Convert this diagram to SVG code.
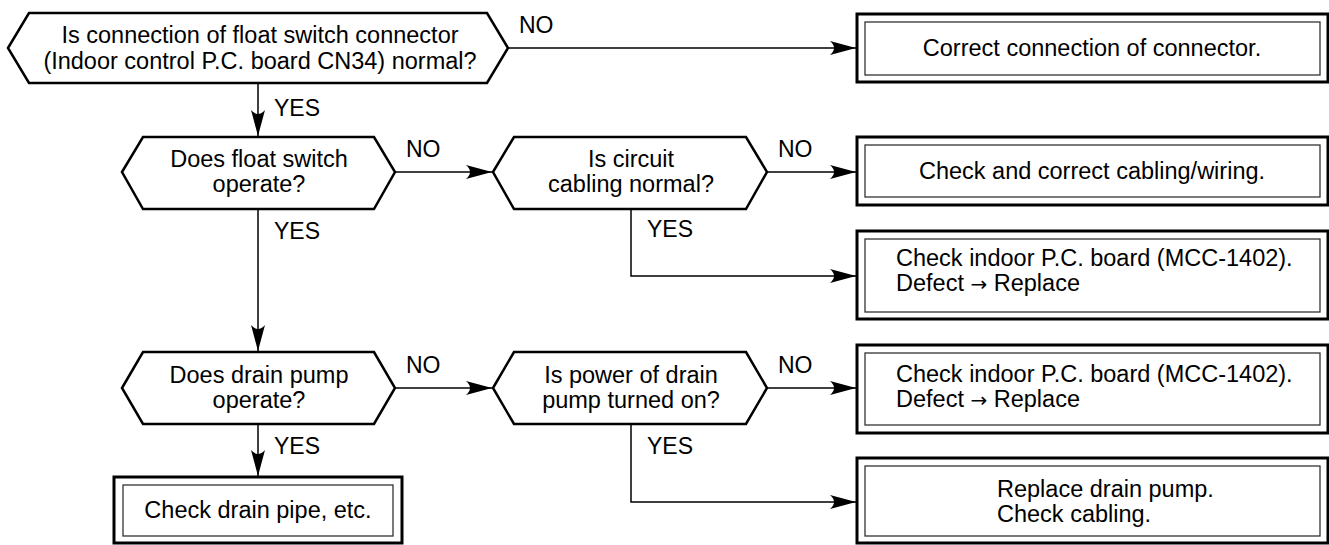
<svg xmlns="http://www.w3.org/2000/svg" width="1329" height="545" viewBox="0 0 1329 545">
<style>
  text { font-family: "Liberation Sans", Arial, Helvetica, sans-serif; font-size: 23.5px; fill: #000; }
  .c { text-anchor: middle; }
  .hex { fill: #fff; stroke: #000; stroke-width: 2.5; stroke-linejoin: miter; }
  .outer { fill: #fff; stroke: #000; stroke-width: 3; }
  .inner { fill: none; stroke: #333; stroke-width: 1.3; }
  .line { fill: none; stroke: #000; stroke-width: 1.5; }
  .lbl { font-size: 23px; }
  .sym { font-family: "DejaVu Sans", sans-serif; font-size: 20px; }
</style>
<defs>
  <marker id="arr" markerUnits="userSpaceOnUse" markerWidth="30" markerHeight="20" viewBox="-27 -10 30 20" refX="0" refY="0" orient="auto">
    <path d="M0,0 L-26,-7 Q-18,0 -26,7 Z" fill="#000"/>
  </marker>
</defs>
<rect width="1329" height="545" fill="#fff"/>

<g id="connectors">
  <path class="line" d="M508,48 H856" marker-end="url(#arr)"/>
  <path class="line" d="M258,83 V136" marker-end="url(#arr)"/>
  <path class="line" d="M395,172 H492" marker-end="url(#arr)"/>
  <path class="line" d="M767,172 H856" marker-end="url(#arr)"/>
  <path class="line" d="M631,209 V276 H856" marker-end="url(#arr)"/>
  <path class="line" d="M258,209 V351" marker-end="url(#arr)"/>
  <path class="line" d="M395,388 H492" marker-end="url(#arr)"/>
  <path class="line" d="M767,388 H856" marker-end="url(#arr)"/>
  <path class="line" d="M631,424 V502 H856" marker-end="url(#arr)"/>
  <path class="line" d="M258,424 V476" marker-end="url(#arr)"/>
  <text class="lbl" x="519" y="33">NO</text>
  <text class="lbl" x="274" y="116">YES</text>
  <text class="lbl" x="406" y="157">NO</text>
  <text class="lbl" x="778" y="157">NO</text>
  <text class="lbl" x="274" y="239">YES</text>
  <text class="lbl" x="647" y="237">YES</text>
  <text class="lbl" x="406" y="373">NO</text>
  <text class="lbl" x="778" y="373">NO</text>
  <text class="lbl" x="274" y="454">YES</text>
  <text class="lbl" x="647" y="454">YES</text>
</g>

<g id="q1">
  <polygon class="hex" points="8,48 29,13 487,13 508,48 487,83 29,83"/>
  <text class="c" x="260" y="43">Is connection of float switch connector</text>
  <text class="c" x="260" y="69">(Indoor control P.C. board CN34) normal?</text>
</g>

<g id="a1">
  <rect class="outer" x="857" y="14" width="471" height="68"/>
  <rect class="inner" x="865" y="22" width="455" height="53"/>
  <text class="c" x="1092" y="56">Correct connection of connector.</text>
</g>

<g id="q2">
  <polygon class="hex" points="122,172 143,137 374,137 395,172 374,209 143,209"/>
  <text class="c" x="259" y="167">Does float switch</text>
  <text class="c" x="259" y="192">operate?</text>
</g>

<g id="q3">
  <polygon class="hex" points="493,172 514,137 746,137 767,172 746,209 514,209"/>
  <text class="c" x="631" y="167">Is circuit</text>
  <text class="c" x="631" y="192">cabling normal?</text>
</g>

<g id="a2">
  <rect class="outer" x="857" y="137" width="471" height="68"/>
  <rect class="inner" x="865" y="145" width="455" height="52"/>
  <text class="c" x="1092" y="179">Check and correct cabling/wiring.</text>
</g>

<g id="a3">
  <rect class="outer" x="857" y="231" width="471" height="88"/>
  <rect class="inner" x="865" y="239" width="455" height="73"/>
  <text x="896" y="266">Check indoor P.C. board (MCC-1402).</text>
  <text x="896" y="291">Defect <tspan class="sym">→</tspan> Replace</text>
</g>

<g id="q4">
  <polygon class="hex" points="122,388 143,352 374,352 395,388 374,424 143,424"/>
  <text class="c" x="259" y="383">Does drain pump</text>
  <text class="c" x="259" y="408">operate?</text>
</g>

<g id="q5">
  <polygon class="hex" points="493,388 514,352 746,352 767,388 746,424 514,424"/>
  <text class="c" x="631" y="383">Is power of drain</text>
  <text class="c" x="631" y="408">pump turned on?</text>
</g>

<g id="a4">
  <rect class="outer" x="857" y="345" width="471" height="88"/>
  <rect class="inner" x="865" y="353" width="455" height="72"/>
  <text x="896" y="382">Check indoor P.C. board (MCC-1402).</text>
  <text x="896" y="407">Defect <tspan class="sym">→</tspan> Replace</text>
</g>

<g id="a5">
  <rect class="outer" x="857" y="458" width="471" height="85"/>
  <rect class="inner" x="865" y="466" width="455" height="70"/>
  <text x="997" y="497">Replace drain pump.</text>
  <text x="997" y="522">Check cabling.</text>
</g>

<g id="a6">
  <rect class="outer" x="114" y="477" width="288" height="66"/>
  <rect class="inner" x="123" y="485" width="270" height="51"/>
  <text class="c" x="258" y="518">Check drain pipe, etc.</text>
</g>
</svg>
